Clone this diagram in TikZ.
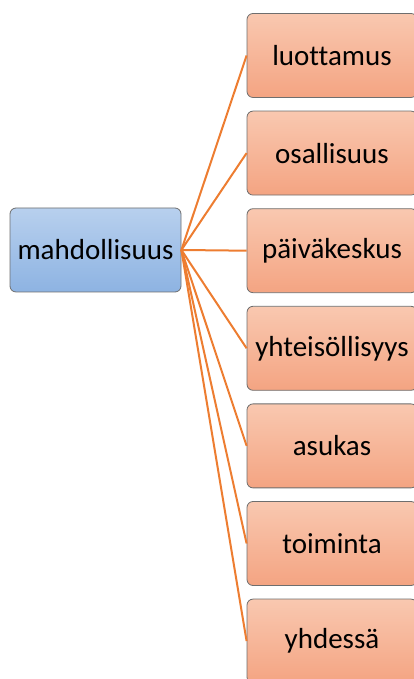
\documentclass[tikz,border=0pt]{standalone}
\usepackage{fontspec}
\setmainfont[Ligatures=NoCommon]{Carlito}
\definecolor{bluetop}{HTML}{B8D0EE}
\definecolor{bluebot}{HTML}{8DB3E2}
\definecolor{orangetop}{HTML}{F9C8B0}
\definecolor{orangebot}{HTML}{F4A482}
\definecolor{boxline}{HTML}{6E6E6E}
\definecolor{linkline}{HTML}{ED7D31}
\tikzset{
  centerbox/.style={draw=boxline, line width=0.8pt, rounded corners=6pt,
    top color=bluetop, bottom color=bluebot, minimum width=171pt,
    minimum height=84pt, font=\fontsize{29}{33}\selectfont},
  wordbox/.style={draw=boxline, line width=0.8pt, rounded corners=6pt,
    top color=orangetop, bottom color=orangebot, minimum width=170pt,
    minimum height=84pt, font=\fontsize{29}{33}\selectfont},
  link/.style={draw=linkline, line width=2pt}
}
\begin{document}
\begin{tikzpicture}[x=1pt,y=1pt]
        \useasboundingbox (0,0) rectangle (413,679);
        %%%%%%%%%% Nodi %%%%%%%%%%
        \node[centerbox] (mahd) at (95.5,429) {mahdollisuus};
        \foreach \word [count=\i from 0] in {luottamus,osallisuus,päiväkeskus,yhteisöllisyys,asukas,toiminta,yhdessä}
          \node[wordbox] (w\i) at (332,{679-55.5-97.6*\i}) {\word};

        %%%%%%%%% Linee %%%%%%%%%
        \foreach \i in {0,...,6}
          \draw[link] (mahd.east) -- (w\i.west);
    \end{tikzpicture}
\end{document}
